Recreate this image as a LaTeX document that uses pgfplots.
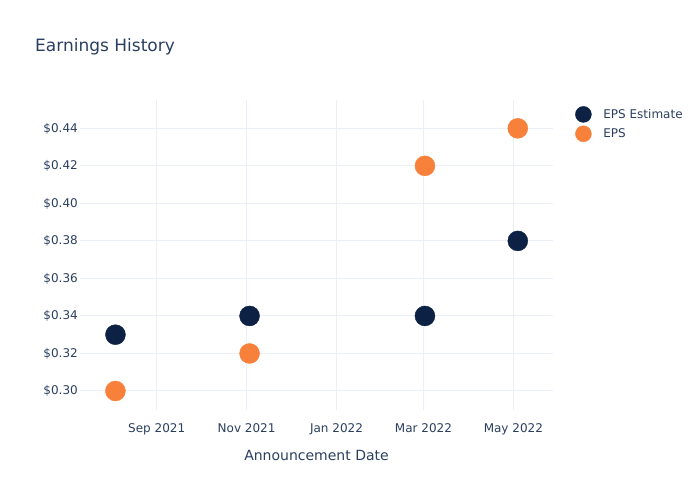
\documentclass[border=0pt]{standalone}
\usepackage{pgfplots}
\pgfplotsset{compat=1.18}
\usepackage{fontspec}
\setmainfont{DejaVu Sans}
\definecolor{txt}{HTML}{2A3F5F}
\definecolor{grd}{HTML}{EBF0F8}
\definecolor{navy}{HTML}{0D2145}
\definecolor{orng}{HTML}{F7813A}
\begin{document}
\begin{tikzpicture}[x=1pt,y=1pt]
\path[use as bounding box] (0,0) rectangle (700,500);
\node[anchor=base west, font=\fontsize{17}{20}\selectfont, text=txt, inner sep=0pt] at (35,448.5) {Earnings History};
\begin{axis}[at={(80pt,90pt)}, anchor=south west, scale only axis,
  width=473pt, height=310pt,
  xmin=-52.05, xmax=268.9, ymin=0.28987, ymax=0.4551,
  axis line style={draw=none}, major tick length=0pt,
  xtick={0,61,122,181,242},
  xticklabels={Sep 2021,Nov 2021,Jan 2022,Mar 2022,May 2022},
  ytick={0.30,0.32,0.34,0.36,0.38,0.40,0.42,0.44},
  yticklabels={\$0.30,\$0.32,\$0.34,\$0.36,\$0.38,\$0.40,\$0.42,\$0.44},
  grid=major, grid style={grd, line width=1pt},
  tick label style={font=\fontsize{12}{14}\selectfont, text=txt},
  xticklabel style={anchor=base, yshift=-23pt},
  yticklabel style={anchor=east, inner sep=0pt, xshift=-2pt},
  xlabel={Announcement Date},
  xlabel style={at={(axis description cs:0.5,0)}, anchor=base, yshift=-50.7pt, font=\fontsize{14}{16}\selectfont, text=txt},
  legend style={at={(1.0465,0.9806)}, anchor=north west, draw=none, fill=none, inner sep=0pt, row sep=3pt, font=\fontsize{12}{14}\selectfont, text=txt, cells={anchor=west}},
  legend image code/.code={\fill[#1] (8pt,0pt) circle (8pt); \path[draw=none, fill=none] (0pt,-0.5pt) rectangle (26pt,0.5pt);},
]
\addplot[only marks, mark=*, mark size=10pt, color=navy, mark options={draw=navy, fill=navy}]
  coordinates {(-28,0.33) (63,0.34) (182,0.34) (245,0.38)};
\addlegendentry{EPS Estimate}
\addplot[only marks, mark=*, mark size=10pt, color=orng, mark options={draw=orng, fill=orng}]
  coordinates {(-28,0.30) (63,0.32) (182,0.42) (245,0.44)};
\addlegendentry{EPS}
\end{axis}
\end{tikzpicture}
\end{document}
